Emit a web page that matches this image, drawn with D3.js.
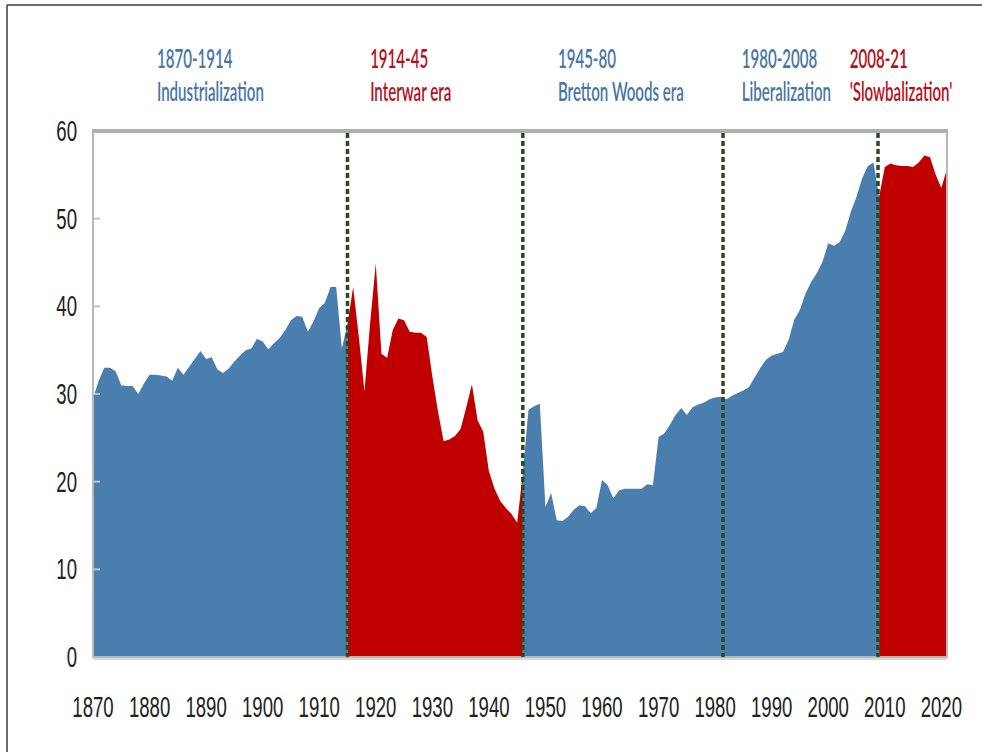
<!DOCTYPE html>
<html>
<head>
<meta charset="utf-8">
<script src="https://cdn.jsdelivr.net/npm/d3@7"></script>
<style>
  html, body { margin: 0; padding: 0; background: #ffffff; }
  svg { display: block; }
</style>
</head>
<body>
<svg id="chart" width="982" height="752"></svg>
<script>
// ---------------- DATA ----------------
const years = d3.range(1870, 2022);
const values = [
  29.5, 31.5, 33.0, 33.0, 32.6, 31.0, 30.9, 30.9, 30.0, 31.2,   // 1870-1879
  32.2, 32.2, 32.1, 32.0, 31.5, 33.0, 32.2, 33.1, 34.0, 34.9,   // 1880-1889
  34.0, 34.2, 32.8, 32.4, 32.9, 33.7, 34.4, 35.0, 35.2, 36.3,   // 1890-1899
  36.0, 35.1, 35.8, 36.4, 37.3, 38.4, 38.9, 38.8, 37.1, 38.3,   // 1900-1909
  39.8, 40.4, 42.2, 42.2, 35.2, 38.0, 42.2, 36.5, 30.3, 38.1,   // 1910-1919
  44.9, 34.6, 34.1, 37.3, 38.6, 38.4, 37.1, 37.0, 37.0, 36.5,   // 1920-1929
  32.0, 28.0, 24.6, 24.8, 25.2, 26.0, 28.5, 31.1, 27.0, 25.7,   // 1930-1939
  21.2, 19.2, 17.8, 17.0, 16.3, 15.3, 21.0, 28.2, 28.6, 28.9,   // 1940-1949
  17.1, 18.7, 15.6, 15.5, 16.0, 16.8, 17.3, 17.2, 16.4, 17.0,   // 1950-1959
  20.2, 19.6, 18.1, 19.0, 19.2, 19.2, 19.2, 19.2, 19.7, 19.6,   // 1960-1969
  25.1, 25.5, 26.5, 27.6, 28.4, 27.6, 28.5, 28.8, 29.0, 29.4,   // 1970-1979
  29.6, 29.7, 29.4, 29.8, 30.1, 30.4, 30.8, 31.9, 33.0, 33.9,   // 1980-1989
  34.4, 34.6, 34.8, 36.2, 38.5, 39.6, 41.5, 42.8, 43.8, 45.1,   // 1990-1999
  47.2, 46.9, 47.3, 48.6, 50.8, 52.5, 54.6, 56.0, 56.4, 52.5,   // 2000-2009
  55.9, 56.3, 56.1, 56.0, 56.0, 55.9, 56.4, 57.2, 57.0, 55.0,   // 2010-2019
  53.5, 55.7                                                    // 2020-2021
];
// era segments of the series (start year, end year, era kind)
const segmentStarts = [1870, 1915, 1946, 2009];
const segmentEnds   = [1915, 1946, 2009, 2021];
const segmentKinds  = ["open", "closed", "open", "closed"];
// dashed era dividers (year positions)
const dividers = [1915, 1946, 1981.4, 2008.8];
// era labels
const eraPeriods = ["1870-1914", "1914-45", "1945-80", "1980-2008", "2008-21"];
const eraNames   = ["Industrialization", "Interwar era", "Bretton Woods era", "Liberalization", "'Slowbalization'"];
const eraKinds   = ["open", "closed", "open", "open", "closed"];
const eraLabelYears = [1881.3, 1919.0, 1952.2, 1984.7, 2003.8];
// axis ticks
const xTicks = d3.range(1870, 2021, 10);
const yTicks = [0, 10, 20, 30, 40, 50, 60];

// ---------------- STYLE ----------------
const colors = { open: "#4a7eae", closed: "#c00000" };
const labelColors = { open: "#4876a6", closed: "#b80f1a" };
const plot = { left: 93, right: 947, top: 131, bottom: 657 };

const svg = d3.select("#chart");

const x = d3.scaleLinear().domain([1870, 2021]).range([plot.left, plot.right]);
const y = d3.scaleLinear().domain([0, 60]).range([plot.bottom, plot.top]);

// outer frame (left and top edges)
svg.append("line").attr("x1", 7).attr("x2", 7).attr("y1", 5).attr("y2", 752)
  .attr("stroke", "#3a3a3a").attr("stroke-width", 1.5);
svg.append("line").attr("x1", 7).attr("x2", 982).attr("y1", 5).attr("y2", 5)
  .attr("stroke", "#3a3a3a").attr("stroke-width", 1.5);

const data = years.map((yr, i) => ({ year: yr, value: values[i] }));

const area = d3.area()
  .x(d => x(d.year))
  .y0(y(0))
  .y1(d => y(d.value));

segmentStarts.forEach((s, i) => {
  const seg = data.filter(d => d.year >= s && d.year <= segmentEnds[i]);
  svg.append("path")
    .datum(seg)
    .attr("d", area)
    .attr("fill", colors[segmentKinds[i]]);
});

// plot area border
svg.append("rect")
  .attr("x", plot.left).attr("y", plot.top)
  .attr("width", plot.right - plot.left).attr("height", plot.bottom - plot.top)
  .attr("fill", "none").attr("stroke", "#b8b8b8").attr("stroke-width", 2);
svg.append("line")
  .attr("x1", plot.left - 1).attr("x2", plot.right + 1)
  .attr("y1", plot.top).attr("y2", plot.top)
  .attr("stroke", "#b0b0b0").attr("stroke-width", 4);
svg.append("line")
  .attr("x1", plot.left).attr("x2", plot.right)
  .attr("y1", plot.bottom + 2).attr("y2", plot.bottom + 2)
  .attr("stroke", "#d8d8d8").attr("stroke-width", 2);

// inward y tick marks
svg.selectAll(".ytick").data(yTicks.filter(t => t > 0 && t < 60)).enter()
  .append("line")
  .attr("x1", plot.left).attr("x2", plot.left + 7)
  .attr("y1", d => y(d)).attr("y2", d => y(d))
  .attr("stroke", "#c4c4c4").attr("stroke-width", 2);

// dashed dividers
svg.selectAll(".divider").data(dividers).enter()
  .append("line")
  .attr("x1", d => x(d)).attr("x2", d => x(d))
  .attr("y1", plot.top + 2).attr("y2", plot.bottom)
  .attr("stroke", "#2b4a1c").attr("stroke-width", 3.5)
  .attr("stroke-dasharray", "5,3");

// axis labels (narrow font)
const narrow = 0.62;
svg.selectAll(".ylab").data(yTicks).enter()
  .append("text")
  .attr("transform", d => `translate(77,${y(d) + 10}) scale(${narrow},1)`)
  .attr("text-anchor", "end")
  .attr("font-family", "Liberation Sans, Arial, sans-serif")
  .attr("font-size", 30)
  .attr("fill", "#222222")
  .text(d => d);

svg.selectAll(".xlab").data(xTicks).enter()
  .append("text")
  .attr("transform", d => `translate(${x(d)},717) scale(${narrow},1)`)
  .attr("text-anchor", "middle")
  .attr("font-family", "Liberation Sans, Arial, sans-serif")
  .attr("font-size", 30)
  .attr("fill", "#222222")
  .text(d => d);

// era labels
const eraScale = 0.58;
eraPeriods.forEach((p, i) => {
  const g = svg.append("g");
  g.append("text")
    .attr("transform", `translate(${x(eraLabelYears[i])},68) scale(${eraScale},1)`)
    .attr("font-family", "Lato, Open Sans, sans-serif")
    .attr("font-weight", 600)
    .attr("font-size", 26)
    .attr("fill", labelColors[eraKinds[i]])
    .text(p);
  g.append("text")
    .attr("transform", `translate(${x(eraLabelYears[i])},101) scale(${eraScale},1)`)
    .attr("font-family", "Lato, Open Sans, sans-serif")
    .attr("font-weight", 600)
    .attr("font-size", 26)
    .attr("fill", labelColors[eraKinds[i]])
    .text(eraNames[i]);
});
</script>
</body>
</html>
